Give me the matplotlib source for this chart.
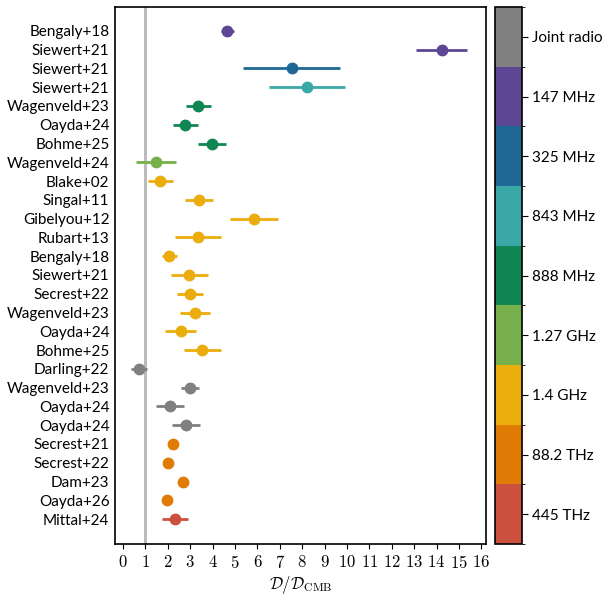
import numpy as np
import matplotlib
matplotlib.use('Agg')
import matplotlib.pyplot as plt
from matplotlib.colors import ListedColormap, BoundaryNorm
from matplotlib.colorbar import ColorbarBase

plt.rcParams['font.family'] = ['Lato', 'DejaVu Sans']
plt.rcParams['mathtext.fontset'] = 'cm'

# bands, top of colorbar first
bands = ['Joint radio', '147 MHz', '325 MHz', '843 MHz', '888 MHz',
         '1.27 GHz', '1.4 GHz', '88.2 THz', '445 THz']
band_colors = ['#808080', '#5d4693', '#1f6896', '#3aa8a6', '#108753',
               '#77b04a', '#ebad0c', '#e07b06', '#cc503e']

studies = ['Bengaly+18', 'Siewert+21', 'Siewert+21', 'Siewert+21',
           'Wagenveld+23', 'Oayda+24', 'Bohme+25', 'Wagenveld+24',
           'Blake+02', 'Singal+11', 'Gibelyou+12', 'Rubart+13', 'Bengaly+18',
           'Siewert+21', 'Secrest+22', 'Wagenveld+23', 'Oayda+24', 'Bohme+25',
           'Darling+22', 'Wagenveld+23', 'Oayda+24', 'Oayda+24',
           'Secrest+21', 'Secrest+22', 'Dam+23', 'Oayda+26', 'Mittal+24']
ratio = [4.66, 14.24, 7.53, 8.20, 3.35, 2.78, 3.96, 1.47,
         1.67, 3.39, 5.86, 3.33, 2.07, 2.96, 2.99, 3.23, 2.58, 3.54,
         0.71, 3.00, 2.10, 2.80, 2.22, 2.01, 2.68, 1.98, 2.31]
err = [0.30, 1.14, 2.17, 1.70, 0.56, 0.57, 0.63, 0.91,
       0.55, 0.63, 1.07, 1.03, 0.34, 0.83, 0.60, 0.67, 0.69, 0.82,
       0.37, 0.41, 0.64, 0.63, 0.10, 0.10, 0.10, 0.10, 0.57]
band = ['147 MHz', '147 MHz', '325 MHz', '843 MHz', '888 MHz', '888 MHz',
        '888 MHz', '1.27 GHz', '1.4 GHz', '1.4 GHz', '1.4 GHz', '1.4 GHz',
        '1.4 GHz', '1.4 GHz', '1.4 GHz', '1.4 GHz', '1.4 GHz', '1.4 GHz',
        'Joint radio', 'Joint radio', 'Joint radio', 'Joint radio',
        '88.2 THz', '88.2 THz', '88.2 THz', '88.2 THz', '445 THz']

fig = plt.figure(figsize=(6.14, 5.96), dpi=100)
ax = fig.add_axes([0.1873, 0.0872, 0.604, 0.901])

ax.axvline(1, color='#bbbbbb', lw=2.2, zorder=0)
for i in range(len(studies)):
    c = band_colors[bands.index(band[i])]
    ax.errorbar(ratio[i], i, xerr=err[i], fmt='o', color=c, ms=7.5,
                elinewidth=2, capsize=0)

ax.set_yticks(range(len(studies)))
ax.set_yticklabels(studies, fontsize=11)
ax.tick_params(axis='y', length=0, pad=4)
ax.set_ylim(len(studies) - 1 + 1.33, -1.27)

xt = np.arange(0, 17)
ax.set_xticks(xt)
ax.set_xticklabels(['$%d$' % v for v in xt], fontsize=12)
ax.set_xlim(-0.36, 16.2)
ax.set_xlabel(r'$\mathcal{D}/\mathcal{D}_{\mathrm{CMB}}$', fontsize=12, labelpad=2)
for s in ax.spines.values():
    s.set_linewidth(1.2)

cax = fig.add_axes([0.8054, 0.0872, 0.044, 0.901])
n = len(bands)
cmap = ListedColormap(band_colors[::-1])
norm = BoundaryNorm(np.arange(n + 1), n)
cb = ColorbarBase(cax, cmap=cmap, norm=norm, orientation='vertical')
cb.set_ticks(np.arange(n) + 0.5)
cb.set_ticklabels(bands[::-1])
cax.tick_params(labelsize=11, length=4)
cb.outline.set_linewidth(1.2)

fig.savefig('out.png', dpi=100)
